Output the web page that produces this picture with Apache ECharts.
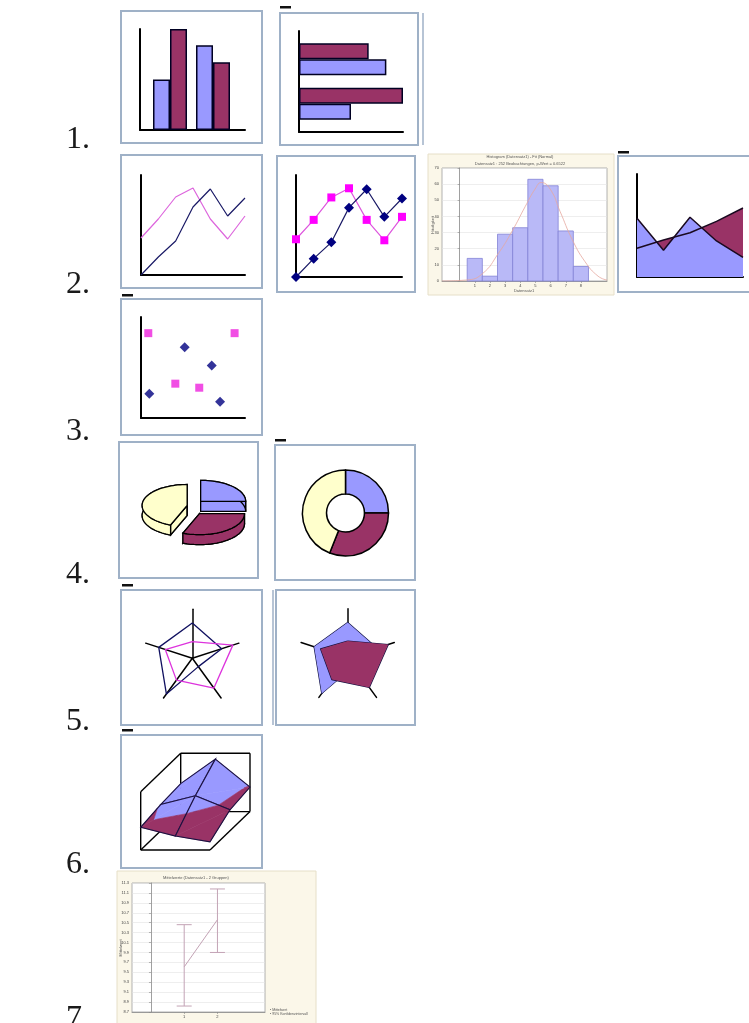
<!DOCTYPE html>
<html>
<head>
<meta charset="utf-8">
<script src="https://cdn.jsdelivr.net/npm/echarts@6/dist/echarts.min.js"></script>
<style>
html, body { margin: 0; padding: 0; background: #ffffff; }
#chart { width: 749px; height: 1023px; }
</style>
</head>
<body>
<div id="chart"></div>
<script>
// ---- column / bar samples ----
const groupNames = ['A', 'B'];
const seriesBlue = [50, 84];
const seriesPlum = [100, 67];

// ---- line samples ----
const lineSteps = ['1', '2', '3', '4', '5', '6', '7'];
const lineMagenta = [37, 56, 78, 87, 56, 36, 59];
const lineNavy = [0, 18, 34, 68, 86, 59, 77];

// ---- histogram sample (bin start, bin end, count) ----
const histBins = [[0.5, 1.5, 14], [1.5, 2.5, 3], [2.5, 3.5, 29], [3.5, 4.5, 33],
                  [4.5, 5.5, 63], [5.5, 6.5, 59], [6.5, 7.5, 31], [7.5, 8.5, 9]];
const histCurve = [[-1.16, 0], [0.44, 0.6], [1.49, 4.4], [2.55, 17], [3.47, 31], [4.32, 46],
                   [4.98, 57], [5.38, 61], [5.97, 57], [6.63, 43], [7.41, 26], [8.27, 12],
                   [9.13, 3], [9.72, 0.6]];
const histTicks = [1, 2, 3, 4, 5, 6, 7, 8];

// ---- area sample ----
const areaSteps = ['1', '2', '3', '4', '5'];
const areaFront = [57, 26, 58, 35, 19];
const areaBack = [28, 36, 43, 54, 67];

// ---- scatter sample ----
const scatterSquares = [[7, 84], [90, 84], [33, 34], [56, 30]];
const scatterDiamonds = [[8, 24], [42, 70], [68, 52], [76, 16]];

// ---- pie / doughnut sample ----
const pieShares = [25, 31, 44];

// ---- radar samples (top, upper-left, lower-left, lower-right, upper-right) ----
const radarAxes = ['A', 'B', 'C', 'D', 'E'];
const radarFirst = [72, 72, 90, 21, 63];
const radarSecond = [34, 58, 55, 75, 87];

// ---- surface sample (rows front -> back) ----
const surfaceFront = [39, 24, 14];
const surfaceMiddle = [45, 60, 36];
const surfaceBack = [48, 90, 42];
const surfaceBand = 44;

// ---- error bar sample (x, low, high, mean) ----
const errorGroups = [1, 2];
const errorLow = [8.82, 9.90];
const errorHigh = [10.46, 11.18];
const errorMean = [9.61, 10.56];

const BLUE = '#9999FF';
const PLUM = '#993366';
const CREAM = '#FFFFCC';
const NAVY = '#000080';
const MAGENTA = '#FF00FF';

const chart = echarts.init(document.getElementById('chart'), null, { renderer: 'canvas' });

// Plain black axis used by the small sample icons
function iconAxis(extra) {
  return Object.assign({
    axisLine: { show: true, onZero: false, lineStyle: { color: '#000000', width: 2 } },
    axisTick: { show: false },
    axisLabel: { show: false },
    splitLine: { show: false }
  }, extra);
}
// Same scale, but without any drawn line (bars sit on a narrower band)
function hiddenAxis(extra) {
  return Object.assign({
    axisLine: { show: false }, axisTick: { show: false },
    axisLabel: { show: false }, splitLine: { show: false }
  }, extra);
}

// ---- 3D pie: oblique ellipse projection ----
const PIE3D = { cx: 195, cy: 507, rx: 45, ry: 21, depth: 10, explode: 8 };
const pieColors = [BLUE, PLUM, CREAM];
function renderPie3d(params, api) {
  const idx = params.dataIndex;
  const total = pieShares.reduce((a, b) => a + b, 0);
  let before = 0;
  for (let k = 0; k < idx; k++) before += pieShares[k];
  const a0 = before / total * 360;
  const a1 = (before + api.value(0)) / total * 360;
  const mid = (a0 + a1) / 2 * Math.PI / 180;
  const cx = PIE3D.cx + PIE3D.explode * Math.sin(mid);
  const cy = PIE3D.cy - PIE3D.explode * Math.cos(mid);
  const pt = (deg, dz) => {
    const r = deg * Math.PI / 180;
    return [cx + PIE3D.rx * Math.sin(r), cy - PIE3D.ry * Math.cos(r) + dz];
  };
  const arc = (dz) => {
    const n = Math.max(2, Math.ceil((a1 - a0) / 3));
    const pts = [];
    for (let s = 0; s <= n; s++) pts.push(pt(a0 + (a1 - a0) * s / n, dz));
    return pts;
  };
  const top = arc(0);
  const bottom = arc(PIE3D.depth);
  const c0 = [cx, cy];
  const c1 = [cx, cy + PIE3D.depth];
  const z2 = idx === 1 ? 20 : 0;
  const style = { fill: pieColors[idx], stroke: '#000000', lineWidth: 1.3 };
  return {
    type: 'group',
    children: [
      { type: 'polygon', z2: z2, shape: { points: [c1].concat(bottom) }, style: style },
      { type: 'polygon', z2: z2 + 1, shape: { points: [c0, top[0], bottom[0], c1] }, style: style },
      { type: 'polygon', z2: z2 + 1, shape: { points: [c0, top[top.length - 1], bottom[bottom.length - 1], c1] }, style: style },
      { type: 'polygon', z2: z2 + 2, shape: { points: top.concat(bottom.slice().reverse()) }, style: style },
      { type: 'polygon', z2: z2 + 3, shape: { points: [c0].concat(top) }, style: style }
    ]
  };
}

// ---- 3D surface: oblique box projection ----
const SURF = { ox: 140.7, oy: 850, ix: 34.65, jx: 20, jy: 19.2, zk: 0.583 };
const surfaceHeights = [surfaceFront, surfaceMiddle, surfaceBack];
function proj(i, j, z) {
  return [SURF.ox + SURF.ix * i + SURF.jx * j, SURF.oy - SURF.jy * j - SURF.zk * z];
}
// split a triangle (3D points) into the part above / below the colour band
function clipTri(tri, keepAbove) {
  const out = [];
  for (let k = 0; k < tri.length; k++) {
    const p = tri[k], q = tri[(k + 1) % tri.length];
    const pin = keepAbove ? p[2] >= surfaceBand : p[2] < surfaceBand;
    const qin = keepAbove ? q[2] >= surfaceBand : q[2] < surfaceBand;
    if (pin) out.push(p);
    if (pin !== qin) {
      const t = (surfaceBand - p[2]) / (q[2] - p[2]);
      out.push([p[0] + (q[0] - p[0]) * t, p[1] + (q[1] - p[1]) * t, surfaceBand]);
    }
  }
  return out;
}
function renderSurfaceCell(params, api) {
  const i = api.value(0), j = api.value(1);
  const v = (a, b) => [a, b, surfaceHeights[b][a]];
  const tris = [[v(i, j), v(i + 1, j), v(i + 1, j + 1)], [v(i, j), v(i + 1, j + 1), v(i, j + 1)]];
  const children = [];
  tris.forEach(tri => {
    [[true, BLUE], [false, PLUM]].forEach(([above, col]) => {
      const poly = clipTri(tri, above);
      if (poly.length >= 3) {
        children.push({
          type: 'polygon',
          shape: { points: poly.map(p => proj(p[0], p[1], p[2])) },
          style: { fill: col, stroke: col, lineWidth: 0.6 }
        });
      }
    });
  });
  const quad = [v(i, j), v(i + 1, j), v(i + 1, j + 1), v(i, j + 1)].map(p => proj(p[0], p[1], p[2]));
  children.push({
    type: 'polygon',
    shape: { points: quad },
    style: { fill: 'none', stroke: '#1a1040', lineWidth: 1.1 }
  });
  return { type: 'group', children: children };
}
const surfaceCells = [];
for (let j = surfaceHeights.length - 2; j >= 0; j--) {
  for (let i = 0; i < surfaceHeights[0].length - 1; i++) surfaceCells.push([i, j]);
}
// wire box edges (floor, side wall, back wall)
const boxEdges = [
  [[0, 0, 0], [2, 0, 0]], [[2, 0, 0], [2, 2, 0]], [[0, 0, 0], [0, 2, 0]], [[0, 2, 0], [2, 2, 0]],
  [[0, 0, 0], [0, 0, 100]], [[0, 0, 100], [0, 2, 100]], [[0, 2, 0], [0, 2, 100]],
  [[0, 2, 100], [2, 2, 100]], [[2, 2, 0], [2, 2, 100]]
];

// ---- frames around each sample ----
const frameStyle = { fill: 'none', stroke: '#9fb1c7', lineWidth: 2 };
const frames = [
  [121, 11, 141, 132], [280, 13, 138, 132],
  [121, 155, 141, 133], [277, 156, 138, 136], [618, 156, 135, 136],
  [121, 299, 141, 136],
  [119, 442, 139, 136], [275, 445, 140, 135],
  [121, 590, 141, 135], [276, 590, 139, 135],
  [121, 735, 141, 133]
];
const dashes = [[280, 6], [618, 151], [122, 294], [275, 439], [122, 584], [122, 729]];
const rowLabels = ['1.', '2.', '3.', '4.', '5.', '6.', '7.'];
const rowBaselines = [156, 301, 448, 591, 738, 881, 1035];

const graphics = [];
// cream panels of the two statistics plots
graphics.push({ type: 'rect', z: -5, shape: { x: 428, y: 154, width: 186, height: 141 },
  style: { fill: '#fbf7e9', stroke: '#e6dfc8', lineWidth: 1 } });
graphics.push({ type: 'rect', z: -5, shape: { x: 117, y: 871, width: 199, height: 160 },
  style: { fill: '#fbf7e9', stroke: '#e6dfc8', lineWidth: 1 } });
frames.forEach(f => graphics.push({ type: 'rect', shape: { x: f[0], y: f[1], width: f[2], height: f[3] }, style: frameStyle }));
graphics.push({ type: 'line', shape: { x1: 423, y1: 13, x2: 423, y2: 145 }, style: { stroke: '#9fb1c7', lineWidth: 1.5 } });
graphics.push({ type: 'line', shape: { x1: 273, y1: 590, x2: 273, y2: 725 }, style: { stroke: '#9fb1c7', lineWidth: 1.5 } });
dashes.forEach(d => graphics.push({ type: 'rect', shape: { x: d[0], y: d[1], width: 11, height: 2.5 }, style: { fill: '#111111' } }));
rowLabels.forEach((t, k) => graphics.push({
  type: 'text', x: 66, y: rowBaselines[k],
  style: { text: t, font: '32px "Liberation Serif"', fill: '#1a1a1a', textVerticalAlign: 'bottom' }
}));
boxEdges.forEach(e => {
  const a = proj(e[0][0], e[0][1], e[0][2]), b = proj(e[1][0], e[1][1], e[1][2]);
  graphics.push({ type: 'line', shape: { x1: a[0], y1: a[1], x2: b[0], y2: b[1] }, style: { stroke: '#000000', lineWidth: 1.4 } });
});
// titles of the statistics plots
graphics.push({ type: 'text', x: 520, y: 157, style: { text: 'Histogram (Datensatz1) - Fit (Normal)', font: '4px "Liberation Sans"', fill: '#555555', textAlign: 'center', textVerticalAlign: 'middle' } });
graphics.push({ type: 'text', x: 520, y: 164, style: { text: 'Datensatz1 : 252 Beobachtungen, p-Wert = 0.6522', font: '4px "Liberation Sans"', fill: '#555555', textAlign: 'center', textVerticalAlign: 'middle' } });
graphics.push({ type: 'text', x: 524, y: 291, style: { text: 'Datensatz1', font: '4px "Liberation Sans"', fill: '#555555', textAlign: 'center', textVerticalAlign: 'middle' } });
graphics.push({ type: 'text', x: 433, y: 225, rotation: Math.PI / 2, style: { text: 'Häufigkeit', font: '4px "Liberation Sans"', fill: '#555555', textAlign: 'center', textVerticalAlign: 'middle' } });
graphics.push({ type: 'text', x: 196, y: 878, style: { text: 'Mittelwerte (Datensatz1 - 2 Gruppen)', font: '4px "Liberation Sans"', fill: '#555555', textAlign: 'center', textVerticalAlign: 'middle' } });
graphics.push({ type: 'text', x: 121, y: 948, rotation: Math.PI / 2, style: { text: 'Mittelwert', font: '4px "Liberation Sans"', fill: '#555555', textAlign: 'center', textVerticalAlign: 'middle' } });
graphics.push({ type: 'text', x: 270, y: 1012, style: { text: '• Mittelwert\n• 95% Konfidenzintervall', font: '3.5px "Liberation Sans"', fill: '#555555', textVerticalAlign: 'middle' } });

const tinyLabel = { show: true, fontSize: 4, color: '#444444', margin: 3, fontFamily: 'Liberation Sans' };

const option = {
  animation: false,
  backgroundColor: '#ffffff',
  grid: [
    { left: 148.5, top: 29, width: 86, height: 101 },          // 0 column bars
    { left: 299, top: 37, width: 104, height: 89 },            // 1 horizontal bars
    { left: 141, top: 175, width: 104, height: 100 },          // 2 line
    { left: 296, top: 175, width: 106, height: 102 },          // 3 line + markers
    { left: 442, top: 168, width: 165, height: 113, show: true, backgroundColor: '#ffffff', borderColor: '#a0a0a0', borderWidth: 0.8 }, // 4 histogram
    { left: 637, top: 174, width: 106, height: 103 },          // 5 area
    { left: 141, top: 317, width: 104, height: 101 },          // 6 scatter
    { left: 132, top: 883, width: 133, height: 129, show: true, backgroundColor: '#ffffff', borderColor: '#a0a0a0', borderWidth: 0.8 }, // 7 error bars
    { left: 140, top: 29, width: 105, height: 101 },           // 8 column axes
    { left: 299, top: 31, width: 104, height: 101 }            // 9 horizontal bar axes
  ],
  xAxis: [
    hiddenAxis({ gridIndex: 0, type: 'category', data: groupNames }),
    hiddenAxis({ gridIndex: 1, type: 'value', min: 0, max: 100 }),
    iconAxis({ gridIndex: 2, type: 'category', data: lineSteps, boundaryGap: false }),
    iconAxis({ gridIndex: 3, type: 'category', data: lineSteps, boundaryGap: false }),
    {
      gridIndex: 4, type: 'value', min: -1.16, max: 9.72,
      axisLine: { show: true, onZero: false, lineStyle: { color: '#888888', width: 0.8 } },
      axisTick: { show: true, length: 2, customValues: histTicks, lineStyle: { color: '#888888', width: 0.6 } },
      axisLabel: Object.assign({ customValues: histTicks }, tinyLabel),
      splitLine: { show: false }
    },
    iconAxis({ gridIndex: 5, type: 'category', data: areaSteps, boundaryGap: false }),
    iconAxis({ gridIndex: 6, type: 'value', min: 0, max: 100 }),
    {
      gridIndex: 7, type: 'value', min: -0.57, max: 3.43,
      axisLine: { show: true, onZero: false, lineStyle: { color: '#888888', width: 0.8 } },
      axisTick: { show: true, length: 2, customValues: errorGroups, lineStyle: { color: '#888888', width: 0.6 } },
      axisLabel: Object.assign({ customValues: errorGroups }, tinyLabel),
      splitLine: { show: false }
    },
    iconAxis({ gridIndex: 8, type: 'value', min: 0, max: 1 }),
    iconAxis({ gridIndex: 9, type: 'value', min: 0, max: 100 })
  ],
  yAxis: [
    hiddenAxis({ gridIndex: 0, type: 'value', min: 0, max: 100 }),
    hiddenAxis({ gridIndex: 1, type: 'category', data: groupNames }),
    iconAxis({ gridIndex: 2, type: 'value', min: 0, max: 100 }),
    iconAxis({ gridIndex: 3, type: 'value', min: 0, max: 100 }),
    {
      gridIndex: 4, type: 'value', min: 0, max: 70, interval: 10,
      axisLine: { show: true, lineStyle: { color: '#888888', width: 0.8 } },
      axisTick: { show: true, length: 2, lineStyle: { color: '#888888', width: 0.6 } },
      axisLabel: tinyLabel,
      splitLine: { show: true, lineStyle: { color: '#e2e2e2', width: 0.6 } }
    },
    iconAxis({ gridIndex: 5, type: 'value', min: 0, max: 100 }),
    iconAxis({ gridIndex: 6, type: 'value', min: 0, max: 100 }),
    {
      gridIndex: 7, type: 'value', min: 8.7, max: 11.3, interval: 0.2,
      axisLine: { show: true, lineStyle: { color: '#888888', width: 0.8 } },
      axisTick: { show: true, length: 2, lineStyle: { color: '#888888', width: 0.6 } },
      axisLabel: Object.assign({ formatter: v => v.toFixed(1) }, tinyLabel),
      splitLine: { show: true, lineStyle: { color: '#e2e2e2', width: 0.6 } }
    },
    iconAxis({ gridIndex: 8, type: 'value', min: 0, max: 100 }),
    iconAxis({ gridIndex: 9, type: 'value', min: 0, max: 1 })
  ],
  radar: [
    {
      center: [192.3, 658.3], radius: 49, startAngle: 90, splitNumber: 1,
      indicator: radarAxes.map(n => ({ name: n, max: 100 })),
      axisName: { show: false },
      axisLine: { lineStyle: { color: '#000000', width: 1.5 } },
      splitLine: { show: false }, splitArea: { show: false }
    },
    {
      center: [347.7, 657.7], radius: 49, startAngle: 90, splitNumber: 1,
      indicator: radarAxes.map(n => ({ name: n, max: 100 })),
      axisName: { show: false },
      axisLine: { lineStyle: { color: '#000000', width: 1.5 } },
      splitLine: { show: false }, splitArea: { show: false }
    }
  ],
  graphic: { elements: graphics },
  series: [
    // 1. column chart
    { type: 'bar', xAxisIndex: 0, yAxisIndex: 0, data: seriesBlue, barWidth: 17, barGap: '0%',
      itemStyle: { color: BLUE, borderColor: '#000022', borderWidth: 1.5 } },
    { type: 'bar', xAxisIndex: 0, yAxisIndex: 0, data: seriesPlum, barWidth: 17, barGap: '0%',
      itemStyle: { color: PLUM, borderColor: '#000022', borderWidth: 1.5 } },
    // 1. bar chart (plum listed first so it sits above the blue bar)
    { type: 'bar', xAxisIndex: 1, yAxisIndex: 1, data: seriesPlum, barWidth: 16, barGap: '0%',
      itemStyle: { color: PLUM, borderColor: '#000022', borderWidth: 1.5 } },
    { type: 'bar', xAxisIndex: 1, yAxisIndex: 1, data: seriesBlue, barWidth: 16, barGap: '0%',
      itemStyle: { color: BLUE, borderColor: '#000022', borderWidth: 1.5 } },
    // 2. line chart
    { type: 'line', xAxisIndex: 2, yAxisIndex: 2, data: lineMagenta, showSymbol: false,
      lineStyle: { color: '#dd66dd', width: 1.2 } },
    { type: 'line', xAxisIndex: 2, yAxisIndex: 2, data: lineNavy, showSymbol: false,
      lineStyle: { color: '#1a1a66', width: 1.2 } },
    // 2. line chart with markers
    { type: 'line', xAxisIndex: 3, yAxisIndex: 3, data: lineMagenta, symbol: 'rect', symbolSize: 8,
      lineStyle: { color: '#dd55dd', width: 1.2 }, itemStyle: { color: MAGENTA } },
    { type: 'line', xAxisIndex: 3, yAxisIndex: 3, data: lineNavy, symbol: 'diamond', symbolSize: 10,
      lineStyle: { color: '#1a1a66', width: 1.2 }, itemStyle: { color: NAVY } },
    // 2. histogram
    { type: 'custom', xAxisIndex: 4, yAxisIndex: 4, data: histBins,
      renderItem: (params, api) => {
        const a = api.coord([api.value(0), api.value(2)]);
        const b = api.coord([api.value(1), 0]);
        return { type: 'rect', shape: { x: a[0], y: a[1], width: b[0] - a[0], height: b[1] - a[1] },
          style: { fill: '#b9b9f7', stroke: '#8383d6', lineWidth: 0.8 } };
      } },
    { type: 'line', xAxisIndex: 4, yAxisIndex: 4, data: histCurve, showSymbol: false, smooth: true,
      lineStyle: { color: '#e6a8a0', width: 0.8 } },
    // 2. area chart
    { type: 'line', xAxisIndex: 5, yAxisIndex: 5, data: areaBack, showSymbol: false,
      lineStyle: { color: '#1a0a20', width: 1.5 }, areaStyle: { color: PLUM, opacity: 1 } },
    { type: 'line', xAxisIndex: 5, yAxisIndex: 5, data: areaFront, showSymbol: false,
      lineStyle: { color: '#1a0a20', width: 1.5 }, areaStyle: { color: BLUE, opacity: 1 } },
    // 3. scatter
    { type: 'scatter', xAxisIndex: 6, yAxisIndex: 6, data: scatterSquares, symbol: 'rect', symbolSize: 8,
      itemStyle: { color: '#ee22dd' } },
    { type: 'scatter', xAxisIndex: 6, yAxisIndex: 6, data: scatterDiamonds, symbol: 'diamond', symbolSize: 10,
      itemStyle: { color: NAVY } },
    // 4. 3D pie
    { type: 'custom', coordinateSystem: 'none', data: pieShares.map(v => [v]), renderItem: renderPie3d },
    // 4. doughnut
    { type: 'pie', center: [345.5, 513], radius: [19, 43], startAngle: 90, clockwise: true,
      label: { show: false }, labelLine: { show: false }, silent: true,
      itemStyle: { borderColor: '#000000', borderWidth: 1.5 },
      data: pieShares.map((v, k) => ({ value: v, itemStyle: { color: pieColors[k] } })) },
    // 5. radar lines
    { type: 'radar', radarIndex: 0, symbol: 'none',
      data: [
        { value: radarFirst, lineStyle: { color: '#101060', width: 1.3 } },
        { value: radarSecond, lineStyle: { color: '#dd33dd', width: 1.3 } }
      ] },
    // 5. filled radar
    { type: 'radar', radarIndex: 1, symbol: 'none',
      data: [
        { value: radarFirst, lineStyle: { color: '#101040', width: 1.3 }, areaStyle: { color: BLUE, opacity: 1 } },
        { value: radarSecond, lineStyle: { color: '#101040', width: 1.3 }, areaStyle: { color: PLUM, opacity: 1 } }
      ] },
    // 6. surface
    { type: 'custom', coordinateSystem: 'none', data: surfaceCells, renderItem: renderSurfaceCell },
    // 7. mean values with error bars
    { type: 'custom', xAxisIndex: 7, yAxisIndex: 7,
      data: errorGroups.map((g, k) => [g, errorLow[k], errorHigh[k]]),
      renderItem: (params, api) => {
        const lo = api.coord([api.value(0), api.value(1)]);
        const hi = api.coord([api.value(0), api.value(2)]);
        const cap = 7.5;
        const st = { stroke: '#c3a3b5', lineWidth: 1 };
        return { type: 'group', children: [
          { type: 'line', shape: { x1: lo[0], y1: lo[1], x2: hi[0], y2: hi[1] }, style: st },
          { type: 'line', shape: { x1: lo[0] - cap, y1: lo[1], x2: lo[0] + cap, y2: lo[1] }, style: st },
          { type: 'line', shape: { x1: hi[0] - cap, y1: hi[1], x2: hi[0] + cap, y2: hi[1] }, style: st }
        ] };
      } },
    { type: 'line', xAxisIndex: 7, yAxisIndex: 7, data: errorGroups.map((g, k) => [g, errorMean[k]]),
      showSymbol: false, lineStyle: { color: '#c3a3b5', width: 1 } }
  ]
};

chart.setOption(option);
</script>
</body>
</html>
